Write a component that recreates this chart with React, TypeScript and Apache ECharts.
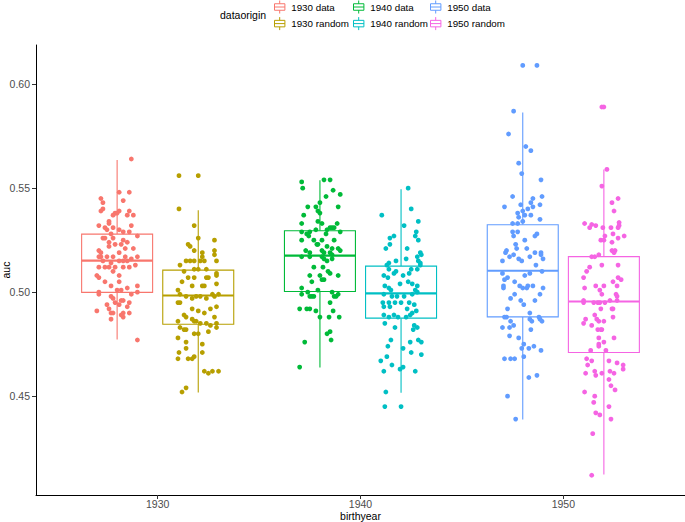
import React, { useEffect, useRef } from "react";
import * as echarts from "echarts";

// ---- data ----
const CATEGORIES = ["1930", "1940", "1950"];
const GROUP_NAMES = ["1930 data", "1930 random", "1940 data", "1940 random", "1950 data", "1950 random"];
const COLORS = ["#F8766D", "#B79F00", "#00BA38", "#00BFC4", "#619CFF", "#F564E3"];
const Y_TICKS = [0.45, 0.5, 0.55, 0.6];

// box stats: [lower whisker, Q1, median, Q3, upper whisker]
const box1930Data = [0.4773, 0.4999, 0.5152, 0.5279, 0.5635];
const box1930Random = [0.4518, 0.4846, 0.4984, 0.5106, 0.5394];
const box1940Data = [0.4638, 0.5003, 0.5176, 0.5295, 0.5538];
const box1940Random = [0.4516, 0.4875, 0.4994, 0.5125, 0.5495];
const box1950Data = [0.4388, 0.4881, 0.5103, 0.5324, 0.5864];
const box1950Random = [0.4124, 0.471, 0.4955, 0.5171, 0.559];

// jittered points: [horizontal jitter (category units), auc]
const pts1930Data = [
  [0.07, 0.564], [0.01, 0.548], [0.06, 0.548], [-0.08, 0.545], [0.03, 0.544], [-0.07, 0.543], [0.06, 0.539], [0.01, 0.539],
  [-0.08, 0.539], [-0.07, 0.54], [-0.01, 0.538], [-0.02, 0.537], [0.08, 0.537], [0.05, 0.537], [0.0, 0.538], [-0.04, 0.534],
  [-0.04, 0.533], [-0.09, 0.532], [0.07, 0.532], [-0.02, 0.531], [-0.06, 0.531], [-0.05, 0.53], [0.01, 0.53], [0.03, 0.529],
  [0.06, 0.529], [-0.03, 0.528], [0.1, 0.527], [-0.07, 0.526], [-0.06, 0.526], [-0.02, 0.526], [0.03, 0.525], [0.05, 0.524],
  [-0.04, 0.524], [-0.01, 0.523], [-0.04, 0.522], [0.02, 0.523], [0.08, 0.521], [0.04, 0.521], [-0.09, 0.52], [-0.08, 0.519],
  [0.01, 0.519], [-0.09, 0.517], [-0.08, 0.517], [-0.05, 0.517], [-0.02, 0.517], [0.04, 0.517], [0.1, 0.517], [0.07, 0.516],
  [0.05, 0.515], [-0.07, 0.515], [-0.03, 0.514], [0.01, 0.515], [0.03, 0.515], [0.09, 0.513], [-0.09, 0.512], [-0.06, 0.512],
  [-0.04, 0.512], [-0.01, 0.512], [0.03, 0.512], [0.06, 0.512], [-0.1, 0.508], [-0.09, 0.507], [-0.02, 0.51], [0.01, 0.508],
  [-0.06, 0.505], [0.01, 0.505], [-0.03, 0.503], [0.0, 0.501], [0.02, 0.501], [-0.09, 0.5], [-0.09, 0.499], [0.05, 0.502],
  [0.1, 0.503], [0.07, 0.499], [-0.03, 0.498], [-0.02, 0.497], [0.02, 0.496], [0.1, 0.5], [-0.01, 0.495], [0.03, 0.496],
  [0.06, 0.495], [0.01, 0.494], [-0.05, 0.494], [-0.04, 0.492], [0.05, 0.493], [-0.1, 0.491], [-0.03, 0.49], [-0.02, 0.49],
  [0.03, 0.49], [0.06, 0.49], [0.03, 0.488], [0.02, 0.489], [-0.03, 0.487], [0.1, 0.477],
];
const pts1930Random = [
  [-0.095, 0.556], [0.0, 0.556], [-0.095, 0.54], [-0.02, 0.532], [0.0, 0.526], [0.08, 0.525], [-0.05, 0.523], [-0.04, 0.522],
  [-0.02, 0.52], [0.08, 0.52], [0.02, 0.519], [0.02, 0.517], [0.08, 0.518], [-0.06, 0.515], [-0.04, 0.515], [-0.02, 0.515],
  [0.01, 0.515], [0.03, 0.515], [0.09, 0.515], [-0.09, 0.513], [0.0, 0.511], [-0.07, 0.51], [-0.02, 0.511], [0.04, 0.511],
  [0.09, 0.509], [-0.05, 0.507], [-0.08, 0.505], [-0.02, 0.507], [0.04, 0.507], [0.05, 0.507], [0.09, 0.508], [0.09, 0.504],
  [0.02, 0.503], [0.03, 0.503], [-0.03, 0.503], [-0.1, 0.501], [-0.09, 0.499], [-0.06, 0.498], [-0.01, 0.498], [0.01, 0.498],
  [0.07, 0.499], [0.1, 0.499], [-0.1, 0.495], [-0.09, 0.495], [-0.03, 0.497], [0.04, 0.497], [0.08, 0.498], [0.09, 0.493],
  [0.06, 0.492], [-0.03, 0.492], [0.0, 0.491], [0.03, 0.49], [-0.07, 0.489], [-0.06, 0.488], [0.08, 0.488], [-0.1, 0.486],
  [-0.03, 0.487], [-0.02, 0.486], [-0.01, 0.486], [0.01, 0.485], [0.04, 0.485], [0.06, 0.484], [0.09, 0.485], [-0.09, 0.483],
  [-0.07, 0.482], [-0.06, 0.482], [-0.02, 0.48], [0.0, 0.48], [0.05, 0.481], [0.09, 0.483], [-0.1, 0.478], [-0.06, 0.476],
  [0.02, 0.475], [-0.095, 0.471], [-0.06, 0.473], [0.02, 0.471], [-0.1, 0.468], [-0.05, 0.468], [-0.02, 0.469], [-0.03, 0.468],
  [0.03, 0.462], [0.05, 0.461], [0.07, 0.462], [0.1, 0.462], [-0.08, 0.452], [-0.06, 0.454],
];
const pts1940Data = [
  [0.02, 0.554], [0.05, 0.554], [-0.09, 0.553], [-0.085, 0.55], [0.065, 0.549], [0.1, 0.547], [0.03, 0.546], [0.0, 0.543],
  [-0.06, 0.541], [-0.02, 0.541], [0.09, 0.541], [-0.01, 0.539], [0.0, 0.538], [-0.08, 0.537], [-0.09, 0.533], [-0.01, 0.534],
  [0.085, 0.533], [0.01, 0.533], [0.06, 0.531], [0.05, 0.531], [0.07, 0.531], [-0.09, 0.529], [-0.05, 0.529], [-0.02, 0.53],
  [0.035, 0.53], [0.1, 0.529], [-0.065, 0.528], [-0.055, 0.527], [0.03, 0.528], [-0.09, 0.525], [-0.03, 0.525], [0.01, 0.525],
  [0.07, 0.525], [-0.015, 0.523], [-0.01, 0.523], [0.035, 0.522], [0.06, 0.521], [0.09, 0.521], [0.1, 0.52], [-0.07, 0.52],
  [-0.05, 0.519], [-0.09, 0.517], [-0.05, 0.517], [0.01, 0.52], [0.02, 0.519], [0.05, 0.519], [0.06, 0.518], [0.01, 0.517],
  [0.02, 0.516], [0.035, 0.515], [0.06, 0.516], [-0.03, 0.512], [0.015, 0.512], [0.04, 0.51], [0.05, 0.509], [0.09, 0.508],
  [-0.05, 0.508], [0.0, 0.508], [0.01, 0.506], [0.02, 0.506], [-0.04, 0.505], [-0.09, 0.502], [-0.06, 0.5], [-0.01, 0.501],
  [0.06, 0.5], [-0.09, 0.499], [-0.05, 0.498], [-0.04, 0.498], [-0.03, 0.498], [0.07, 0.498], [0.09, 0.499], [0.08, 0.498],
  [0.05, 0.495], [-0.1, 0.492], [-0.065, 0.492], [-0.05, 0.492], [-0.02, 0.491], [0.065, 0.491], [0.0, 0.488], [0.045, 0.488],
  [0.095, 0.488], [0.035, 0.48], [0.05, 0.481], [-0.075, 0.476], [0.055, 0.477], [-0.1, 0.464],
];
const pts1940Random = [
  [0.035, 0.55], [0.05, 0.54], [-0.095, 0.537], [0.085, 0.534], [0.015, 0.532], [-0.035, 0.527], [-0.055, 0.526], [0.075, 0.529],
  [0.07, 0.527], [0.085, 0.525], [-0.075, 0.521], [-0.055, 0.523], [0.03, 0.521], [0.095, 0.519], [0.1, 0.518], [0.08, 0.517],
  [-0.025, 0.515], [-0.06, 0.514], [-0.07, 0.513], [0.085, 0.515], [0.095, 0.514], [0.095, 0.513], [0.025, 0.516], [-0.06, 0.511],
  [-0.025, 0.51], [-0.035, 0.509], [0.01, 0.508], [0.05, 0.511], [0.08, 0.511], [0.04, 0.509], [-0.085, 0.508], [-0.065, 0.507],
  [0.035, 0.505], [0.055, 0.504], [0.08, 0.503], [-0.08, 0.503], [-0.06, 0.502], [-0.05, 0.501], [-0.005, 0.504], [0.07, 0.501],
  [0.015, 0.498], [-0.085, 0.499], [-0.045, 0.498], [-0.02, 0.498], [0.055, 0.499], [0.08, 0.5], [-0.09, 0.495], [-0.06, 0.495],
  [-0.03, 0.495], [0.0, 0.495], [0.04, 0.495], [0.065, 0.494], [-0.085, 0.493], [-0.055, 0.493], [0.03, 0.492], [0.055, 0.49],
  [0.075, 0.491], [-0.085, 0.489], [-0.06, 0.488], [-0.035, 0.489], [-0.015, 0.488], [0.025, 0.488], [0.045, 0.489], [-0.08, 0.485],
  [-0.03, 0.483], [0.065, 0.484], [0.06, 0.482], [0.08, 0.483], [-0.05, 0.477], [0.045, 0.476], [0.085, 0.477], [0.1, 0.476],
  [-0.065, 0.474], [0.01, 0.473], [0.05, 0.471], [0.1, 0.47], [-0.07, 0.469], [-0.1, 0.467], [-0.045, 0.465], [-0.005, 0.463],
  [0.01, 0.464], [0.07, 0.462], [-0.085, 0.462], [-0.075, 0.452], [-0.08, 0.445], [0.0, 0.445],
];
const pts1950Data = [
  [0.0, 0.609], [0.07, 0.609], [-0.045, 0.587], [-0.07, 0.576], [0.015, 0.57], [0.04, 0.568], [-0.02, 0.562], [-0.005, 0.557],
  [0.09, 0.554], [-0.05, 0.546], [0.05, 0.545], [0.095, 0.546], [-0.09, 0.541], [-0.01, 0.542], [0.04, 0.543], [0.085, 0.542],
  [0.05, 0.541], [0.025, 0.54], [0.0, 0.539], [-0.025, 0.538], [0.01, 0.537], [0.04, 0.537], [-0.02, 0.536], [0.0, 0.534],
  [0.085, 0.535], [-0.05, 0.533], [-0.025, 0.533], [-0.05, 0.529], [-0.025, 0.529], [-0.045, 0.527], [0.07, 0.528], [0.06, 0.527],
  [0.01, 0.525], [-0.035, 0.523], [-0.08, 0.52], [-0.085, 0.519], [-0.03, 0.521], [0.02, 0.521], [-0.045, 0.518], [-0.065, 0.517],
  [-0.02, 0.516], [-0.005, 0.515], [0.035, 0.517], [0.06, 0.519], [0.09, 0.519], [0.1, 0.516], [0.09, 0.518], [0.065, 0.513],
  [-0.1, 0.515], [0.095, 0.51], [-0.1, 0.509], [-0.075, 0.507], [-0.09, 0.506], [0.01, 0.508], [0.035, 0.509], [-0.04, 0.505],
  [-0.095, 0.503], [-0.095, 0.502], [-0.015, 0.503], [0.0, 0.502], [0.02, 0.502], [0.025, 0.503], [0.05, 0.503], [0.1, 0.502],
  [0.085, 0.499], [-0.04, 0.499], [-0.06, 0.497], [0.06, 0.496], [-0.01, 0.496], [0.005, 0.494], [-0.075, 0.492], [0.035, 0.49],
  [-0.08, 0.488], [0.08, 0.488], [-0.09, 0.488], [-0.06, 0.486], [-0.045, 0.484], [0.035, 0.487], [0.045, 0.486], [0.085, 0.487],
  [0.095, 0.486], [-0.1, 0.483], [-0.065, 0.483], [0.04, 0.482], [-0.065, 0.479], [-0.02, 0.478], [0.005, 0.475], [-0.005, 0.473],
  [0.03, 0.473], [0.055, 0.474], [0.09, 0.472], [-0.09, 0.468], [-0.06, 0.468], [-0.04, 0.468], [0.005, 0.469], [0.03, 0.459],
  [0.07, 0.46], [-0.075, 0.45], [-0.035, 0.439],
];
const pts1950Random = [
  [-0.01, 0.589], [0.0, 0.589], [0.015, 0.559], [-0.01, 0.551], [0.04, 0.543], [0.07, 0.545], [0.05, 0.539], [0.075, 0.5335],
  [0.075, 0.532], [-0.095, 0.533], [-0.06, 0.5325], [-0.04, 0.532], [-0.07, 0.531], [-0.005, 0.531], [0.035, 0.531], [0.07, 0.531],
  [0.045, 0.528], [0.1, 0.527], [0.005, 0.527], [0.07, 0.526], [-0.015, 0.525], [0.0, 0.525], [0.04, 0.524], [0.055, 0.52],
  [0.04, 0.52], [-0.06, 0.517], [-0.045, 0.517], [0.05, 0.519], [-0.025, 0.518], [-0.01, 0.513], [0.07, 0.513], [-0.07, 0.512],
  [-0.085, 0.51], [-0.1, 0.507], [0.07, 0.507], [0.085, 0.506], [0.045, 0.505], [-0.095, 0.502], [-0.04, 0.503], [0.0, 0.503],
  [0.065, 0.503], [-0.02, 0.501], [0.06, 0.499], [-0.01, 0.499], [0.065, 0.498], [0.065, 0.496], [0.03, 0.496], [-0.1, 0.496],
  [-0.1, 0.495], [-0.05, 0.495], [-0.03, 0.495], [-0.02, 0.495], [0.005, 0.495], [0.045, 0.492], [0.04, 0.492], [-0.015, 0.492],
  [-0.045, 0.489], [-0.09, 0.487], [-0.1, 0.485], [-0.025, 0.486], [-0.035, 0.487], [-0.06, 0.484], [0.0, 0.486], [0.045, 0.488],
  [-0.03, 0.482], [-0.01, 0.482], [-0.015, 0.482], [0.05, 0.478], [-0.025, 0.478], [-0.025, 0.475], [-0.025, 0.474], [0.0, 0.476],
  [-0.065, 0.472], [0.01, 0.472], [-0.085, 0.468], [-0.06, 0.467], [-0.08, 0.465], [0.025, 0.467], [0.065, 0.466], [0.095, 0.465],
  [0.095, 0.463], [0.03, 0.462], [0.05, 0.461], [-0.09, 0.461], [-0.045, 0.462], [-0.04, 0.46], [-0.01, 0.461], [0.025, 0.458],
  [0.035, 0.455], [0.055, 0.453], [-0.095, 0.452], [-0.045, 0.45], [-0.05, 0.447], [0.025, 0.445], [-0.04, 0.442], [-0.02, 0.441],
  [0.035, 0.439], [-0.055, 0.432], [-0.06, 0.412],
];

const BOXES = [box1930Data, box1930Random, box1940Data, box1940Random, box1950Data, box1950Random];
const POINTS = [pts1930Data, pts1930Random, pts1940Data, pts1940Random, pts1950Data, pts1950Random];

const DODGE = 0.2; // offset of each origin from the category centre
const BOX_W = 0.35; // box width in category units
const FONT = '"Liberation Sans", Arial, Helvetica, sans-serif';
const BOX_ICON =
  "path://M50,0L50,25M10,25L90,25L90,75L10,75ZM10,50L90,50M50,75L50,100";

function groupX(i: number) {
  const cat = Math.floor(i / 2);
  return cat + (i % 2 === 0 ? -DODGE : DODGE);
}

export default function App() {
  const ref = useRef<HTMLDivElement>(null);
  useEffect(() => {
    if (!ref.current) return;
    const chart = echarts.init(ref.current, null, { renderer: "svg" });

    const series: any[] = [];
    GROUP_NAMES.forEach((name, i) => {
      const color = COLORS[i];
      series.push({
        type: "custom",
        name,
        z: 2,
        data: [[groupX(i), ...BOXES[i]]],
        encode: { x: 0, y: [1, 2, 3, 4, 5] },
        itemStyle: { color: "#fff", borderColor: color },
        renderItem: (params: any, api: any) => {
          const x = api.value(0);
          const lo = api.coord([x, api.value(1)]);
          const q1 = api.coord([x, api.value(2)]);
          const med = api.coord([x, api.value(3)]);
          const q3 = api.coord([x, api.value(4)]);
          const hi = api.coord([x, api.value(5)]);
          const half = api.size([BOX_W, 0])[0] / 2;
          const lw = 1.1;
          return {
            type: "group",
            children: [
              { type: "line", shape: { x1: lo[0], y1: lo[1], x2: q1[0], y2: q1[1] }, style: { stroke: color, lineWidth: lw } },
              { type: "line", shape: { x1: q3[0], y1: q3[1], x2: hi[0], y2: hi[1] }, style: { stroke: color, lineWidth: lw } },
              {
                type: "rect",
                shape: { x: q3[0] - half, y: q3[1], width: 2 * half, height: q1[1] - q3[1] },
                style: { fill: "#fff", stroke: color, lineWidth: lw },
              },
              {
                type: "line",
                shape: { x1: med[0] - half, y1: med[1], x2: med[0] + half, y2: med[1] },
                style: { stroke: color, lineWidth: 2.2 },
              },
            ],
          };
        },
      });
      series.push({
        type: "scatter",
        name,
        z: 3,
        symbol: "circle",
        symbolSize: 4.8,
        itemStyle: { color, opacity: 1 },
        data: POINTS[i].map((p) => [groupX(i) + p[0], p[1]]),
      });
    });

    const legendLefts = [274, 353, 430];
    const legends = [0, 1, 2].map((c) => ({
      orient: "vertical",
      left: legendLefts[c],
      top: 0,
      padding: 0,
      itemWidth: 13,
      itemHeight: 13,
      itemGap: 2.6,
      selectedMode: false,
      textStyle: { fontSize: 9.8, color: "#000", fontFamily: FONT },
      data: [0, 1].map((k) => {
        const idx = c * 2 + k;
        return {
          name: GROUP_NAMES[idx],
          icon: BOX_ICON,
          itemStyle: { color: "#fff", borderColor: COLORS[idx], borderWidth: 1 },
        };
      }),
    }));

    chart.setOption({
      animation: false,
      backgroundColor: "#fff",
      textStyle: { fontFamily: FONT },
      grid: { left: 36, right: 0, top: 45, bottom: 27, containLabel: false, outerBoundsMode: "none" },
      legend: legends,
      graphic: [
        {
          type: "text",
          left: 220,
          top: 9,
          style: { text: "dataorigin", fontSize: 10.5, fill: "#000", fontFamily: FONT },
        },
      ],
      xAxis: {
        type: "value",
        min: -0.6,
        max: 2.6,
        name: "birthyear",
        nameLocation: "middle",
        nameGap: 15,
        nameMoveOverlap: false,
        nameTextStyle: { fontSize: 10.5, lineHeight: 11, color: "#000", fontFamily: FONT },
        axisLine: { onZero: false, lineStyle: { color: "#000", width: 1 } },
        axisTick: { customValues: [0, 1, 2], length: 4, lineStyle: { color: "#333", width: 1 } },
        axisLabel: {
          customValues: [0, 1, 2],
          formatter: (v: number) => CATEGORIES[Math.round(v)] ?? "",
          color: "#4D4D4D",
          fontSize: 10.5,
          lineHeight: 10,
          margin: 4,
          fontFamily: FONT,
        },
        splitLine: { show: false },
      },
      yAxis: {
        type: "value",
        min: 0.4025,
        max: 0.6188,
        name: "auc",
        nameLocation: "middle",
        nameGap: 25,
        nameMoveOverlap: false,
        nameTextStyle: { fontSize: 10.5, lineHeight: 10.5, color: "#000", fontFamily: FONT },
        axisLine: { onZero: false, lineStyle: { color: "#000", width: 1 } },
        axisTick: { customValues: Y_TICKS, length: 4, lineStyle: { color: "#333", width: 1 } },
        axisLabel: {
          customValues: Y_TICKS,
          formatter: (v: number) => v.toFixed(2),
          color: "#4D4D4D",
          fontSize: 10.5,
          margin: 6,
          fontFamily: FONT,
        },
        splitLine: { show: false },
      },
      series,
    });
    return () => chart.dispose();
  }, []);
  return (
    <div
      ref={ref}
      style={{ position: "fixed", left: 0, top: 0, width: 685, height: 522, background: "#fff" }}
    />
  );
}
